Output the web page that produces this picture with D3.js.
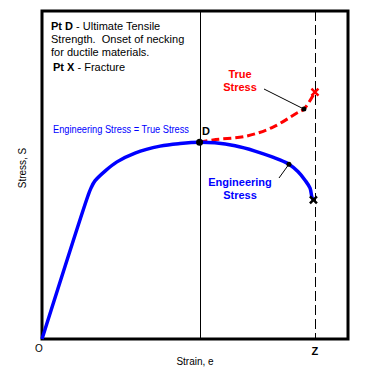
<!DOCTYPE html>
<html>
<head>
<meta charset="utf-8">
<script src="https://cdn.jsdelivr.net/npm/d3@7"></script>
<style>
  body { margin: 0; background: #fff; }
  text { font-family: "Liberation Sans", Arial, sans-serif; }
</style>
</head>
<body>
<script>
// engineering stress-strain curve (arbitrary units, 0..100)
var engStrain = [0, 15.0, 16.0, 17.3, 20.6, 24.5, 30.4, 38.6, 45.1, 51.5, 56.5, 63.1, 69.6, 75.2, 80.7, 83.7, 85.9, 87.6, 88.2, 88.7];
var engStress = [0, 43.6, 46.0, 48.2, 51.2, 54.0, 56.7, 58.8, 59.6, 60.0, 59.8, 58.9, 57.3, 55.5, 53.3, 51.0, 48.5, 46.0, 43.3, 42.4];

// true stress after necking starts at D
var trueStrain = [51.5, 55.9, 67.0, 75.5, 83.3, 85.6, 89.2];
var trueStress = [60.0, 60.7, 61.9, 64.6, 68.9, 70.1, 75.3];

var ptD = {strain: 51.5, stress: 60.0};
var ptZ = 89.2;
var engDot = 14;   // index of marked point on engineering curve
var trueDot = 5;   // index of marked point on true curve

var width = 383, height = 374;

var x = d3.scaleLinear().domain([0, 100]).range([42, 348]);
var y = d3.scaleLinear().domain([0, 100]).range([339, 11]);

// snap 1px lines to the pixel grid
function crisp(v) { return Math.round(v) + 0.5; }

var svg = d3.select("body").append("svg")
    .attr("width", width)
    .attr("height", height);

// frame
svg.append("rect")
    .attr("x", x(0))
    .attr("y", y(100))
    .attr("width", x(100) - x(0))
    .attr("height", y(0) - y(100))
    .attr("fill", "none")
    .attr("stroke", "#000")
    .attr("stroke-width", 3);

// vertical line through D
svg.append("line")
    .attr("x1", crisp(x(ptD.strain))).attr("x2", crisp(x(ptD.strain)))
    .attr("y1", y(100)).attr("y2", y(0))
    .attr("stroke", "#000").attr("stroke-width", 1);

// dashed line at Z
svg.append("line")
    .attr("x1", crisp(x(ptZ))).attr("x2", crisp(x(ptZ)))
    .attr("y1", y(100)).attr("y2", y(0))
    .attr("stroke", "#000").attr("stroke-width", 1)
    .attr("stroke-dasharray", "10,4");

var line = d3.line()
    .x(function(d) { return x(d[0]); })
    .y(function(d) { return y(d[1]); })
    .curve(d3.curveCatmullRom.alpha(0.5));

var engData = engStrain.map(function(s, i) { return [s, engStress[i]]; });
var trueData = trueStrain.map(function(s, i) { return [s, trueStress[i]]; });

// true stress (red dashed)
svg.append("path")
    .datum(trueData)
    .attr("d", line)
    .attr("fill", "none")
    .attr("stroke", "#ff0000")
    .attr("stroke-width", 3)
    .attr("stroke-dasharray", "8,4");

// engineering stress (blue)
svg.append("path")
    .datum(engData)
    .attr("d", line)
    .attr("fill", "none")
    .attr("stroke", "#0000ff")
    .attr("stroke-width", 3.5)
    .attr("stroke-linejoin", "round");

// leader lines
svg.append("line")
    .attr("x1", 264).attr("y1", 89)
    .attr("x2", x(trueStrain[trueDot])).attr("y2", y(trueStress[trueDot]))
    .attr("stroke", "#000").attr("stroke-width", 1);
svg.append("line")
    .attr("x1", x(engStrain[engDot])).attr("y1", y(engStress[engDot]))
    .attr("x2", 279).attr("y2", 178)
    .attr("stroke", "#000").attr("stroke-width", 1);

// dots
svg.append("circle").attr("cx", x(ptD.strain)).attr("cy", y(ptD.stress)).attr("r", 3.5).attr("fill", "#000");
svg.append("circle").attr("cx", x(trueStrain[trueDot])).attr("cy", y(trueStress[trueDot])).attr("r", 2.5).attr("fill", "#000");
svg.append("circle").attr("cx", x(engStrain[engDot])).attr("cy", y(engStress[engDot])).attr("r", 2.5).attr("fill", "#000");

// fracture marks
function cross(cx, cy, color) {
    var s = 3.5;
    svg.append("path")
        .attr("d", "M" + (cx - s) + "," + (cy - s) + "L" + (cx + s) + "," + (cy + s) +
                   "M" + (cx + s) + "," + (cy - s) + "L" + (cx - s) + "," + (cy + s))
        .attr("stroke", color).attr("stroke-width", 2.5).attr("fill", "none");
}
cross(x(trueStrain[trueStrain.length - 1]), y(trueStress[trueStress.length - 1]), "#ff0000");
cross(x(engStrain[engStrain.length - 1]), y(engStress[engStress.length - 1]), "#000");

// text block
var note = svg.append("g").attr("font-size", 11).attr("fill", "#000");
var t1 = note.append("text").attr("x", 51).attr("y", 30);
t1.append("tspan").attr("font-weight", "bold").text("Pt D");
t1.append("tspan").text(" - Ultimate Tensile");
note.append("text").attr("x", 51).attr("y", 43).attr("xml:space", "preserve").text("Strength.  Onset of necking");
note.append("text").attr("x", 51).attr("y", 56).text("for ductile materials.");
var t2 = note.append("text").attr("x", 53).attr("y", 71);
t2.append("tspan").attr("font-weight", "bold").text("Pt X");
t2.append("tspan").text(" - Fracture");

svg.append("text")
    .attr("x", 53).attr("y", 133)
    .attr("font-size", 10).attr("fill", "#0000ff")
    .attr("textLength", 136).attr("lengthAdjust", "spacingAndGlyphs")
    .text("Engineering Stress = True Stress");

svg.append("text")
    .attr("x", 202).attr("y", 135)
    .attr("font-size", 11).attr("font-weight", "bold")
    .text("D");

var trueLbl = svg.append("text").attr("font-size", 11).attr("font-weight", "bold")
    .attr("fill", "#ff0000").attr("text-anchor", "middle");
trueLbl.append("tspan").attr("x", 240).attr("y", 78).text("True");
trueLbl.append("tspan").attr("x", 240).attr("y", 91).text("Stress");

var engLbl = svg.append("text").attr("font-size", 11).attr("font-weight", "bold")
    .attr("fill", "#0000ff").attr("text-anchor", "middle");
engLbl.append("tspan").attr("x", 240).attr("y", 186).text("Engineering");
engLbl.append("tspan").attr("x", 240).attr("y", 199).text("Stress");

// axis labels
svg.append("text").attr("x", 39).attr("y", 352).attr("font-size", 10)
    .attr("text-anchor", "middle").text("O");
svg.append("text").attr("x", x(ptZ)).attr("y", 355).attr("font-size", 11)
    .attr("font-weight", "bold").attr("text-anchor", "middle").text("Z");
svg.append("text").attr("x", 195).attr("y", 365).attr("font-size", 10)
    .attr("text-anchor", "middle").text("Strain, e");
svg.append("text")
    .attr("transform", "translate(26,168) rotate(-90)")
    .attr("font-size", 10).attr("text-anchor", "middle")
    .text("Stress, S");
</script>
</body>
</html>
